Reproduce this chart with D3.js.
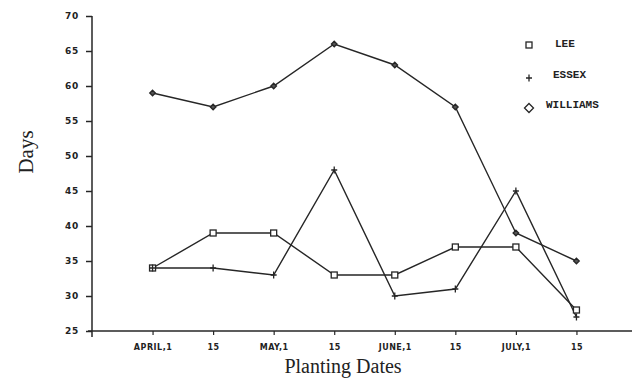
<!DOCTYPE html>
<html>
<head>
<meta charset="utf-8">
<script src="https://cdn.jsdelivr.net/npm/d3@7"></script>
<style>
  body { margin: 0; background: #fff; }
  .tick text { font-family: "DejaVu Sans", sans-serif; font-weight: bold; fill: #222; }
</style>
</head>
<body>
<div id="chart"></div>
<script>
// planting dates (x categories)
const dates = ["APRIL,1", "15", "MAY,1", "15", "JUNE,1", "15", "JULY,1", "15"];
// days per variety
const lee = [34, 39, 39, 33, 33, 37, 37, 28];
const essex = [34, 34, 33, 48, 30, 31, 45, 27];
const williams = [59, 57, 60, 66, 63, 57, 39, 35];
const yTicks = [25, 30, 35, 40, 45, 50, 55, 60, 65, 70];

const w = 636, h = 378;
const ink = "#262626";

const svg = d3.select("#chart").append("svg")
    .attr("width", w)
    .attr("height", h);

// index -1 is the y axis, slot spacing ~60.5px
const xScale = d3.scaleLinear().domain([-1, 8]).range([92, 637]);
const yScale = d3.scaleLinear().domain([25, 70]).range([331, 16]);

// y axis
const yAxis = d3.axisLeft(yScale).tickValues(yTicks).tickSize(6).tickSizeOuter(0);
const gy = svg.append("g")
    .attr("transform", "translate(" + xScale(-1) + ",0)")
    .call(yAxis);
gy.select(".domain").attr("stroke", ink).attr("stroke-width", 1.5)
    .attr("d", "M0," + yScale(70) + "V" + (yScale(25) + 6));
gy.selectAll(".tick line").attr("stroke", ink).attr("stroke-width", 1.5);
gy.selectAll(".tick text").attr("x", -13)
    .attr("font-size", "9px").attr("letter-spacing", "0.8px");

// x axis
const xAxis = d3.axisBottom(xScale)
    .tickValues(d3.range(dates.length))
    .tickFormat((d) => dates[d])
    .tickSize(4).tickSizeOuter(0);
const gx = svg.append("g")
    .attr("transform", "translate(0," + yScale(25) + ")")
    .call(xAxis);
gx.select(".domain").attr("stroke", ink).attr("stroke-width", 1.5)
    .attr("d", "M" + (xScale(-1) - 4) + ",0H632");
gx.selectAll(".tick line").attr("stroke", ink).attr("stroke-width", 1.2);
gx.selectAll(".tick text").attr("y", 13)
    .attr("font-size", "8px").attr("letter-spacing", "0.5px");

// lines
const line = d3.line()
    .x((d, i) => xScale(i))
    .y((d) => yScale(d));

[lee, essex, williams].forEach((s) => {
    svg.append("path")
        .datum(s)
        .attr("fill", "none")
        .attr("stroke", ink)
        .attr("stroke-width", 1.4)
        .attr("d", line);
});

// markers
function square(g, x, y) {
    g.append("rect").attr("x", x - 3).attr("y", y - 3).attr("width", 6).attr("height", 6)
        .attr("fill", "#fff").attr("stroke", ink).attr("stroke-width", 1.3);
}
function plus(g, x, y) {
    g.append("path").attr("d", "M" + (x - 3) + "," + y + "H" + (x + 3) + "M" + x + "," + (y - 3.5) + "V" + (y + 3.5))
        .attr("stroke", ink).attr("stroke-width", 1.3);
}
function diamond(g, x, y, r, fill) {
    g.append("path").attr("d", "M" + x + "," + (y - r) + "L" + (x + r) + "," + y + "L" + x + "," + (y + r) + "L" + (x - r) + "," + y + "Z")
        .attr("fill", fill).attr("stroke", ink).attr("stroke-width", 1.3);
}

const marks = svg.append("g");
williams.forEach((d, i) => diamond(marks, xScale(i), yScale(d), 2.8, "#555"));
lee.forEach((d, i) => square(marks, xScale(i), yScale(d)));
essex.forEach((d, i) => plus(marks, xScale(i), yScale(d)));

// legend
const legend = svg.append("g");
const legendItems = [
    { name: "LEE", mark: square, y: 45, tx: 555 },
    { name: "ESSEX", mark: plus, y: 78, tx: 553 },
    { name: "WILLIAMS", mark: (g, x, y) => diamond(g, x, y, 4.5, "#fff"), y: 108, tx: 546 }
];
legendItems.forEach((it) => {
    it.mark(legend, 529, it.y);
    legend.append("text")
        .attr("x", it.tx)
        .attr("y", it.y + (it.name === "LEE" ? 2 : 0))
        .attr("font-family", "Liberation Mono, monospace")
        .attr("font-weight", "bold")
        .attr("font-size", "11px")
        .attr("fill", "#222")
        .text(it.name);
});

// axis titles
svg.append("text")
    .attr("transform", "translate(33,152) rotate(-90)")
    .attr("text-anchor", "middle")
    .attr("font-family", "Liberation Serif, serif")
    .attr("font-size", "21px")
    .attr("fill", "#222")
    .text("Days");

svg.append("text")
    .attr("x", 343)
    .attr("y", 373)
    .attr("text-anchor", "middle")
    .attr("font-family", "Liberation Serif, serif")
    .attr("font-size", "20px")
    .attr("fill", "#222")
    .text("Planting Dates");
</script>
</body>
</html>
